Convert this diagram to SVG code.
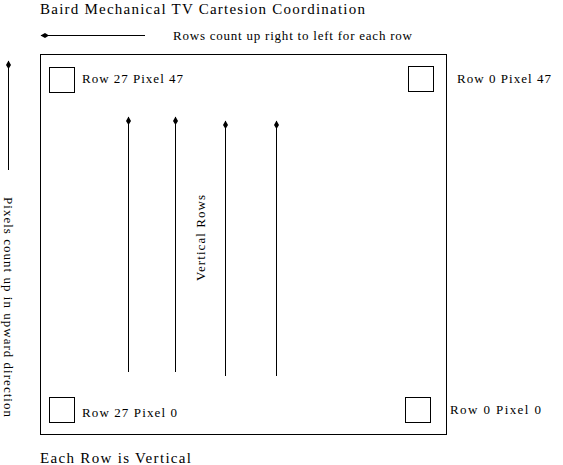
<svg xmlns="http://www.w3.org/2000/svg" width="563" height="465" viewBox="0 0 563 465">
<style>
text{font-family:"Liberation Serif","Times New Roman",serif;fill:#000}
.t{font-size:15px}
.s{font-size:13px}
.box{fill:#fff;stroke:#000;stroke-width:1}
.ln{stroke:#000;stroke-width:1;fill:none}
</style>
<defs>
<marker id="ah" markerUnits="userSpaceOnUse" orient="auto" markerWidth="12" markerHeight="8" refX="10" refY="4" viewBox="0 0 12 8">
<path d="M10.5,4 L6,1.5 L2,4 L6,6.5 Z" fill="#000"/>
</marker>
</defs>
<rect width="563" height="465" fill="#fff"/>
<g id="frame"><rect class="box" x="40.5" y="54.5" width="406" height="380"/></g>
<g id="title"><text class="t" x="40" y="13.5" textLength="325" lengthAdjust="spacing">Baird Mechanical TV Cartesion Coordination</text></g>
<g id="rows-note"><text class="s" x="173" y="40" textLength="239" lengthAdjust="spacing">Rows count up right to left for each row</text></g>
<g id="pixels-note"><text class="s" transform="translate(4,197) rotate(90)" textLength="220" lengthAdjust="spacing">Pixels count up in upward direction</text></g>
<g id="vertical-rows"><text class="s" transform="translate(205,281) rotate(-90)" textLength="86" lengthAdjust="spacing">Vertical Rows</text></g>
<g id="footer"><text class="t" x="40" y="463" textLength="151" lengthAdjust="spacing">Each Row is Vertical</text></g>
<g id="tl"><rect class="box" x="49.5" y="67.5" width="25" height="25"/><text class="s" x="82" y="83" textLength="101" lengthAdjust="spacing">Row 27 Pixel 47</text></g>
<g id="tr"><rect class="box" x="408.5" y="66.5" width="25" height="25"/><text class="s" x="457" y="83" textLength="94" lengthAdjust="spacing">Row 0 Pixel 47</text></g>
<g id="bl"><rect class="box" x="49.5" y="397.5" width="25" height="25"/><text class="s" x="82" y="417" textLength="95" lengthAdjust="spacing">Row 27 Pixel 0</text></g>
<g id="br"><rect class="box" x="405.5" y="397.5" width="25" height="25"/><text class="s" x="450" y="413.5" textLength="91" lengthAdjust="spacing">Row 0 Pixel 0</text></g>
<g id="connectors">
<line class="ln" x1="145" y1="35.5" x2="41" y2="35.5" marker-end="url(#ah)"/>
<line class="ln" x1="8.5" y1="170" x2="8.5" y2="61" marker-end="url(#ah)"/>
<line class="ln" x1="128.5" y1="372" x2="128.5" y2="117" marker-end="url(#ah)"/>
<line class="ln" x1="175.5" y1="372" x2="175.5" y2="117" marker-end="url(#ah)"/>
<line class="ln" x1="225.5" y1="376" x2="225.5" y2="121" marker-end="url(#ah)"/>
<line class="ln" x1="276.5" y1="376" x2="276.5" y2="121" marker-end="url(#ah)"/>
</g>
</svg>
